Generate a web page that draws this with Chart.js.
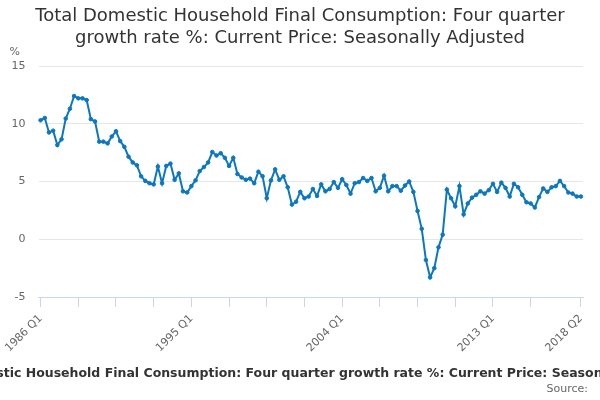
<!DOCTYPE html>
<html>
<head>
<meta charset="utf-8">
<script src="https://cdn.jsdelivr.net/npm/chart.js@4.4.1/dist/chart.umd.min.js"></script>
<style>
  html, body { margin: 0; padding: 0; width: 600px; height: 400px; overflow: hidden; background: #fff; }
  #wrap { position: relative; width: 600px; height: 400px; overflow: hidden; }
  #c { position: absolute; left: 0; top: 0; }
  #caption { position: absolute; left: 306px; top: 365px; transform: translateX(-50%); white-space: nowrap;
    font-family: 'DejaVu Sans', sans-serif; font-weight: bold; font-size: 12.5px; line-height: 16px; color: #333; }
  #source { position: absolute; right: 12px; top: 382px; white-space: nowrap;
    font-family: 'DejaVu Sans', sans-serif; font-size: 11px; line-height: 14px; color: #666; }
</style>
</head>
<body>
<div id="wrap">
  <canvas id="c" width="600" height="400"></canvas>
  <div id="caption">Total Domestic Household Final Consumption: Four quarter growth rate %: Current Price: Seasonally Adjusted</div>
  <div id="source">Source:</div>
</div>
<script>
const titleLines = ['Total Domestic Household Final Consumption: Four quarter', 'growth rate %: Current Price: Seasonally Adjusted'];
const unitLabel = '%';

const startYear = 1986;
const categories = [];
for (let y = startYear; y <= 2018; y++) {
  for (let q = 1; q <= 4; q++) {
    if (y === 2018 && q > 2) break;
    categories.push(y + ' Q' + q);
  }
}

const growthRate = [
  10.3, 10.5, 9.25, 9.4, 8.15, 8.65, 10.45, 11.3, 12.4, 12.2,
  12.2, 12.05, 10.4, 10.2, 8.45, 8.45, 8.3, 8.9, 9.35, 8.5,
  8.0, 7.15, 6.65, 6.4, 5.45, 5.05, 4.85, 4.75, 6.3, 4.85,
  6.35, 6.55, 5.15, 5.7, 4.15, 4.05, 4.6, 5.1, 5.9, 6.25,
  6.65, 7.55, 7.25, 7.45, 7.05, 6.35, 7.05, 5.65, 5.35, 5.15,
  5.25, 4.85, 5.85, 5.45, 3.55, 5.1, 6.05, 5.15, 5.45, 4.5,
  3.0, 3.25, 4.1, 3.55, 3.7, 4.35, 3.75, 4.75, 4.15, 4.35,
  4.95, 4.45, 5.2, 4.7, 3.95, 4.85, 4.95, 5.3, 5.05, 5.3,
  4.15, 4.45, 5.5, 4.15, 4.6, 4.6, 4.2, 4.65, 5.0, 4.1,
  2.45, 0.9, -1.8, -3.3, -2.5, -0.7, 0.4, 4.3, 3.55, 2.85,
  4.6, 2.15, 3.1, 3.6, 3.85, 4.15, 3.95, 4.25, 4.8, 4.1,
  4.9, 4.45, 3.7, 4.8, 4.5, 3.85, 3.2, 3.1, 2.75, 3.65,
  4.4, 4.1, 4.5, 4.6, 5.05, 4.6, 4.05, 3.95, 3.7, 3.7
];

const tickIndices = [0, 9, 18, 27, 36, 45, 54, 63, 72, 81, 90, 99, 108, 117, 129];
const labelIndices = [0, 36, 72, 108, 129];
const yTicks = [-5, 0, 5, 10, 15];

const FONT = "'DejaVu Sans', sans-serif";
const lineColor = '#0b77bf';

const unitPlugin = {
  id: 'unitLabel',
  afterDraw(chart) {
    const ctx = chart.ctx;
    const a = chart.chartArea;
    ctx.save();
    ctx.font = '11px ' + FONT;
    ctx.fillStyle = '#666666';
    ctx.textAlign = 'left';
    ctx.textBaseline = 'middle';
    ctx.fillText(unitLabel, a.left - 29, a.top - 13.5);
    ctx.restore();
  }
};

new Chart(document.getElementById('c'), {
  type: 'line',
  data: {
    labels: categories,
    datasets: [{
      data: growthRate,
      borderColor: lineColor,
      backgroundColor: lineColor,
      borderWidth: 2,
      pointRadius: 1.8,
      pointBorderWidth: 1,
      pointBackgroundColor: lineColor,
      pointBorderColor: lineColor,
      tension: 0,
      fill: false
    }]
  },
  options: {
    responsive: false,
    animation: false,
    devicePixelRatio: 1,
    layout: { padding: { left: 0, right: 0, top: 0, bottom: 0 } },
    plugins: {
      legend: { display: false },
      tooltip: { enabled: false },
      title: {
        display: true,
        text: titleLines,
        color: '#333333',
        font: { family: FONT, size: 18, weight: 'normal', lineHeight: 1.2 },
        padding: { top: 6, bottom: 16.8 }
      }
    },
    scales: {
      x: {
        type: 'category',
        offset: true,
        grid: {
          offset: false,
          drawOnChartArea: false,
          drawTicks: true,
          tickLength: 10,
          color: '#ccd6eb'
        },
        border: { display: true, color: '#ccd6eb', width: 1 },
        ticks: {
          autoSkip: false,
          minRotation: 45,
          maxRotation: 45,
          padding: 5,
          color: '#666666',
          font: { family: FONT, size: 11 },
          callback: (value) => labelIndices.includes(value) ? categories[value] : ''
        },
        afterBuildTicks: (scale) => {
          scale.ticks = scale.ticks.filter(t => tickIndices.includes(t.value));
        },
        afterFit: (scale) => { scale.height = 103; }
      },
      y: {
        min: -5,
        max: 15,
        grid: { color: '#e6e6e6', drawTicks: false, lineWidth: 1 },
        border: { display: false },
        ticks: {
          stepSize: 5,
          padding: 13,
          color: '#666666',
          font: { family: FONT, size: 11 },
          callback: (v) => yTicks.includes(v) ? String(v) : ''
        },
        afterFit: (scale) => { scale.width = 38.5; }
      },
      ySpacer: {
        position: 'right',
        min: -5,
        max: 15,
        grid: { drawOnChartArea: false, drawTicks: false },
        border: { display: false },
        ticks: { display: false },
        afterFit: (scale) => { scale.width = 17; }
      }
    }
  },
  plugins: [unitPlugin]
});
</script>
</body>
</html>
